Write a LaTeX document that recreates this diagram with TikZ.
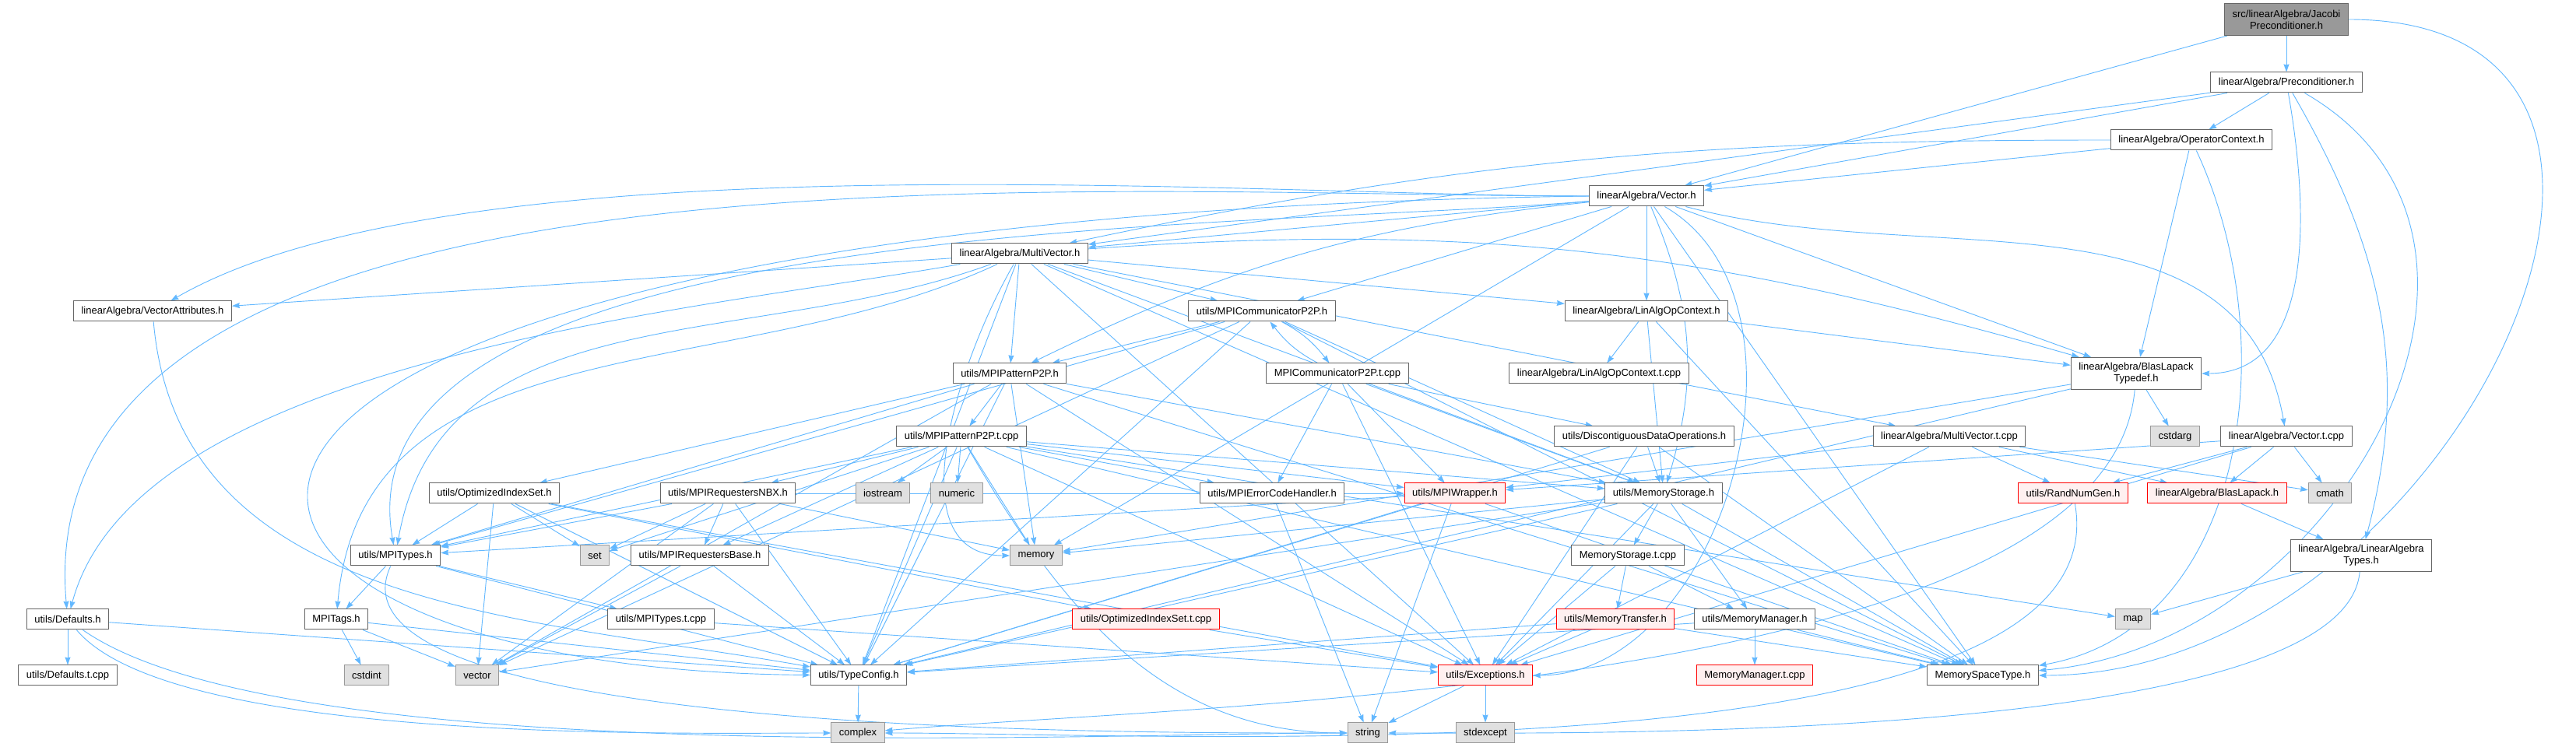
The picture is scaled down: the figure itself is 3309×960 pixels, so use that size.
\documentclass[tikz,border=0pt]{standalone}
\usepackage{fontspec}
\setmainfont{Liberation Sans}
\usetikzlibrary{arrows.meta,backgrounds}

\definecolor{edgeblue}{RGB}{99,184,255}
\definecolor{boxline}{RGB}{102,102,102}
\definecolor{sysline}{RGB}{153,153,153}
\definecolor{sysfill}{RGB}{224,224,224}
\definecolor{truncfill}{RGB}{255,240,240}
\definecolor{rootfill}{RGB}{153,153,153}

\begin{document}
\begin{tikzpicture}[
    x=0.25pt, y=-0.25pt,
    font=\fontsize{3.25}{3.75}\selectfont,
    >={Stealth[length=2.5pt,width=1.75pt,inset=0.25pt]},
    file/.style={draw=boxline, fill=white, line width=0.25pt, align=center,
                 inner xsep=2.5pt, inner ysep=0.5pt, minimum height=6.5pt},
    sys/.style={file, draw=sysline, fill=sysfill},
    trunc/.style={file, draw=red, fill=truncfill},
    root/.style={file, fill=rootfill},
    tall/.style={minimum height=10.25pt},
    dep/.style={->, draw=edgeblue, line width=0.23pt},
]
\useasboundingbox (0,0) rectangle (3309,960);

% --- upper part: preconditioner and vectors ---
\node[root, tall] (J)     at (2937,25)  {src/linearAlgebra/Jacobi\\Preconditioner.h};
\node[file]       (P)     at (2937,106) {linearAlgebra/Preconditioner.h};
\node[file]       (OC)    at (2815,180) {linearAlgebra/OperatorContext.h};
\node[file]       (V)     at (2115,252) {linearAlgebra/Vector.h};
\node[file]       (MV)    at (1310,326) {linearAlgebra/MultiVector.h};
\node[file]       (VA)    at (196,400)  {linearAlgebra/VectorAttributes.h};
\node[file]       (CP)    at (1621,400) {utils/MPICommunicatorP2P.h};
\node[file]       (LAOC)  at (2115,400) {linearAlgebra/LinAlgOpContext.h};
\node[file]       (PP)    at (1297,480) {utils/MPIPatternP2P.h};
\node[file]       (CPT)   at (1718,480) {MPICommunicatorP2P.t.cpp};
\node[file]       (LAOCT) at (2054,480) {linearAlgebra/LinAlgOpContext.t.cpp};
\node[file, tall] (BLT)   at (2744,480) {linearAlgebra/BlasLapack\\Typedef.h};

% --- middle rows ---
\node[file]  (PPT)     at (1235,561) {utils/MPIPatternP2P.t.cpp};
\node[file]  (DDO)     at (2112,561) {utils/DiscontiguousDataOperations.h};
\node[file]  (MVT)     at (2504,561) {linearAlgebra/MultiVector.t.cpp};
\node[sys]   (CSTDARG) at (2794,561) {cstdarg};
\node[file]  (VT)      at (2937,561) {linearAlgebra/Vector.t.cpp};
\node[file]  (OIS)     at (635,634)  {utils/OptimizedIndexSet.h};
\node[file]  (NBX)     at (935,634)  {utils/MPIRequestersNBX.h};
\node[sys]   (IOS)     at (1134,634) {iostream};
\node[sys]   (NUM)     at (1229,634) {numeric};
\node[file]  (ECH)     at (1634,634) {utils/MPIErrorCodeHandler.h};
\node[trunc] (MW)      at (1869,634) {utils/MPIWrapper.h};
\node[file]  (MS)      at (2137,634) {utils/MemoryStorage.h};
\node[trunc] (RNG)     at (2663,634) {utils/RandNumGen.h};
\node[trunc] (BL)      at (2848,634) {linearAlgebra/BlasLapack.h};
\node[sys]   (CMATH)   at (2993,634) {cmath};
\node[file]  (MT)      at (508,714)  {utils/MPITypes.h};
\node[sys]   (SET)     at (764,714)  {set};
\node[file]  (RB)      at (899,714)  {utils/MPIRequestersBase.h};
\node[sys]   (MEM)     at (1331,714) {memory};
\node[file]  (MSTC)    at (2091,714) {MemoryStorage.t.cpp};
\node[file, tall] (LAT) at (3033,714) {linearAlgebra/LinearAlgebra\\Types.h};
\node[file]  (DEF)     at (87,796)   {utils/Defaults.h};
\node[file]  (TAGS)    at (432,796)  {MPITags.h};
\node[file]  (MTT)     at (849,796)  {utils/MPITypes.t.cpp};
\node[trunc] (OIST)    at (1472,796) {utils/OptimizedIndexSet.t.cpp};
\node[trunc] (MTR)     at (2075,796) {utils/MemoryTransfer.h};
\node[file]  (MM)      at (2254,796) {utils/MemoryManager.h};
\node[sys]   (MAP)     at (2740,796) {map};

% --- bottom rows ---
\node[file]  (DEFT)    at (87,868)   {utils/Defaults.t.cpp};
\node[sys]   (CSTDINT) at (471,868)  {cstdint};
\node[sys]   (VEC)     at (613,868)  {vector};
\node[file]  (TC)      at (1103,868) {utils/TypeConfig.h};
\node[trunc] (EXC)     at (1908,868) {utils/Exceptions.h};
\node[trunc] (MMT)     at (2254,868) {MemoryManager.t.cpp};
\node[file]  (MSP)     at (2547,868) {MemorySpaceType.h};
\node[sys]   (CPLX)    at (1102,942) {complex};
\node[sys]   (STR)     at (1757,942) {string};
\node[sys]   (STDEXC)  at (1908,942) {stdexcept};

\begin{scope}[on background layer]
% straight include edges
\foreach \a/\b in {J/P, J/V, P/OC, P/V, P/MV, OC/V, OC/BLT,
    V/MV, V/LAOC, V/BLT, V/CP, V/MSP, V/MEM,
    MV/VA, MV/PP, MV/CP, MV/LAOC, MV/MS, MV/TC, MV/MSP, MV/MVT, MV/EXC,
    CP/PP, CP/MT, CP/TC, CP/MS, CP/MSP, CP/VEC,
    CPT/ECH, CPT/DDO, CPT/MW, CPT/MS, CPT/EXC,
    LAOC/LAOCT, LAOC/BLT, LAOC/MS, LAOC/MSP,
    PP/PPT, PP/MT, PP/OIS, PP/TC, PP/MSP, PP/MS, PP/EXC, PP/MEM, PP/VEC,
    PPT/IOS, PPT/NUM, PPT/MEM, PPT/ECH, PPT/MW, PPT/MS, PPT/EXC, PPT/MT,
    PPT/NBX, PPT/RB, PPT/SET, PPT/TC, PPT/MSP, PPT/MAP,
    OIS/SET, OIS/VEC, OIS/TC, OIS/OIST, OIS/EXC, OIS/MT, OIST/EXC,
    NBX/MT, NBX/SET, NBX/RB, NBX/VEC, NBX/TC, NBX/MEM, NBX/MW,
    RB/VEC, RB/TC, MT/TAGS, MT/MTT, MT/TC,
    TAGS/CSTDINT, TAGS/VEC, TAGS/TC, MTT/EXC, DEF/DEFT, DEF/TC,
    TC/CPLX, EXC/STR, EXC/STDEXC,
    MW/MT, MW/STR, MW/TC, MW/MSP, ECH/STR,
    MS/MSTC, MS/MM, MS/TC, MS/MSP, MS/MEM, MS/VEC, MS/EXC,
    MSTC/MTR, MSTC/MM, MSTC/EXC, MTR/TC, MTR/MSP, MTR/EXC,
    MM/MMT, MM/MSP, MM/TC, DDO/MS, DDO/MSP, DDO/EXC, DDO/TC,
    MVT/RNG, MVT/BL, MVT/CMATH, MVT/MW, MVT/EXC,
    VT/RNG, VT/BL, VT/CMATH, VT/MW, VT/EXC,
    BL/LAT, LAT/MAP, BLT/CSTDARG, BLT/MEM, BLT/TC}
  \draw[dep] (\a) -- (\b);

% long routed edges
\draw[dep] (J) to[out=0,in=0,looseness=1.45] (MSP);
\draw[dep] (P) to[out=-30,in=5,looseness=1.2] (MSP);
\draw[dep] (OC) to[out=-65,in=10] (MSP);
\draw[dep] (P) to[out=-60,in=75] (LAT);
\draw[dep] (P) to[out=-80,in=0] (BLT);
\draw[dep] (OC) to[out=180,in=12] (MV);
\draw[dep] (V) to[out=-15,in=100] (VT);
\draw[dep] (V) to[out=186,in=26] (PP);
\draw[dep] (V) to[out=-67,in=73] (MS);
\draw[dep] (V) to[out=-30,in=0] (EXC);
\draw[dep] (V) to[out=180,in=95,looseness=0.8] (DEF);
\draw[dep] (V) to[out=180,in=30,looseness=0.6] (VA);
\draw[dep] (V) to[out=185,in=100,looseness=0.7] (MT);
\draw[dep] (V.west) .. controls (0,280) and (100,860) .. (TC);
\draw[dep] (MV) to[out=4,in=164] (BLT);
\draw[dep] (MV) to[out=190,in=75,looseness=0.7] (DEF);
\draw[dep] (MV) to[out=200,in=80] (MT);
\draw[dep] (MV) to[out=205,in=85] (TAGS);
\draw[dep] (MV) to[out=240,in=180] (MEM);
\draw[dep] (VA) to[out=-85,in=170] (TC);
\draw[dep] (CP) to[out=-28,in=128] (CPT);
\draw[dep] (CPT) to[out=152,in=-52] (CP);
\draw[dep] (PPT) to[out=-60,in=180] (STR);
\draw[dep] (MT) to[out=-115,in=180,looseness=0.5] (STR);
\draw[dep] (DEF) to[out=-50,in=180,looseness=0.5] (CPLX);
\draw[dep] (DEF) to[out=-35,in=180,looseness=0.5] (STR);
\draw[dep] (RNG) to[out=-80,in=0,looseness=0.6] (CPLX);
\draw[dep] (LAT) to[out=-95,in=0,looseness=0.45] (STR);
\draw[dep] (BLT) to[out=-95,in=5,looseness=0.6] (CPLX);
\end{scope}

\end{tikzpicture}
\end{document}
